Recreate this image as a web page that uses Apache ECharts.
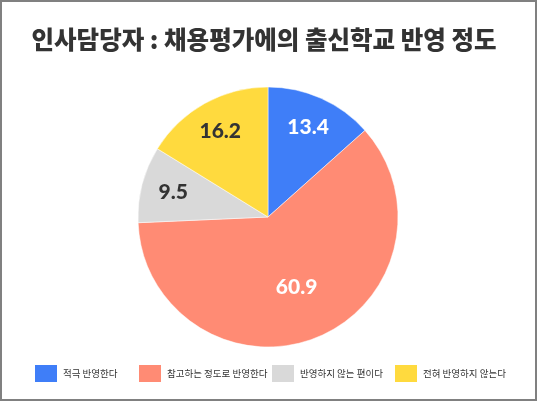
<!DOCTYPE html>
<html>
<head>
<meta charset="utf-8">
<script src="https://cdn.jsdelivr.net/npm/echarts@6/dist/echarts.min.js"></script>
<style>
  html, body { margin: 0; padding: 0; background: #fff; }
  #wrap { position: relative; width: 537px; height: 401px; }
  #chart { position: absolute; left: 0; top: 0; width: 537px; height: 401px; }
  #frame { position: absolute; left: 0; top: 0; width: 533px; height: 397px;
           border: 2px solid #808080; pointer-events: none; }
</style>
</head>
<body>
<div id="wrap">
  <div id="chart"></div>
  <div id="frame"></div>
</div>
<script>
// 데이터
var categories = ['적극 반영한다', '참고하는 정도로 반영한다', '반영하지 않는 편이다', '전혀 반영하지 않는다'];
var values = [13.4, 60.9, 9.5, 16.2];
var colors = ['#3f7ef8', '#ff8b74', '#d9d9d9', '#ffda3e'];
var labelColors = ['#ffffff', '#ffffff', '#333333', '#333333'];

var CX = 268, CY = 217, R = 130;
var legendLeft = [33, 137, 270, 393];

var myChart = echarts.init(document.getElementById('chart'));

// 범례 4개를 따로 배치
var legends = categories.map(function (name, i) {
    return {
        data: [name],
        left: legendLeft[i],
        top: 363,
        padding: 0,
        itemWidth: 24,
        itemHeight: 19,
        itemGap: 0,
        itemTextGap: 4,
        selectedMode: false,
        icon: 'rect',
        z: 10 - i,
        textStyle: {
            fontFamily: 'Noto Sans CJK KR',
            fontSize: 9.5,
            color: '#333'
        }
    };
});

var option = {
    animation: false,
    title: {
        text: '인사담당자 : 채용평가에의 출신학교 반영 정도',
        left: 259,
        textAlign: 'center',
        top: 22,
        textStyle: {
            fontFamily: 'Noto Sans CJK KR',
            fontWeight: 900,
            fontSize: 24.5,
            color: '#333'
        }
    },
    legend: legends,
    series: [{
        type: 'pie',
        center: [CX, CY],
        radius: [0, R],
        startAngle: 90,
        clockwise: true,
        silent: true,
        itemStyle: { borderColor: '#fff', borderWidth: 0.5 },
        label: {
            show: true,
            position: 'inside',
            fontFamily: 'Lato',
            fontWeight: 900,
            fontSize: 21,
            formatter: function (p) { return p.value.toFixed(1); }
        },
        labelLine: { show: false },
        // 라벨을 반지름 방향으로 밀어냄
        labelLayout: function (p) {
            var r = p.labelRect;
            var lx = r.x + r.width / 2, ly = r.y + r.height / 2;
            var dx = lx - CX, dy = ly - CY;
            var d = Math.sqrt(dx * dx + dy * dy) || 1;
            var target = values[p.dataIndex] > 50 ? 76 : 98;
            var k = target / d - 1;
            return { dx: dx * k, dy: dy * k };
        },
        data: categories.map(function (name, i) {
            return {
                name: name,
                value: values[i],
                itemStyle: { color: colors[i] },
                label: { color: labelColors[i] }
            };
        })
    }]
};

myChart.setOption(option);
</script>
</body>
</html>
